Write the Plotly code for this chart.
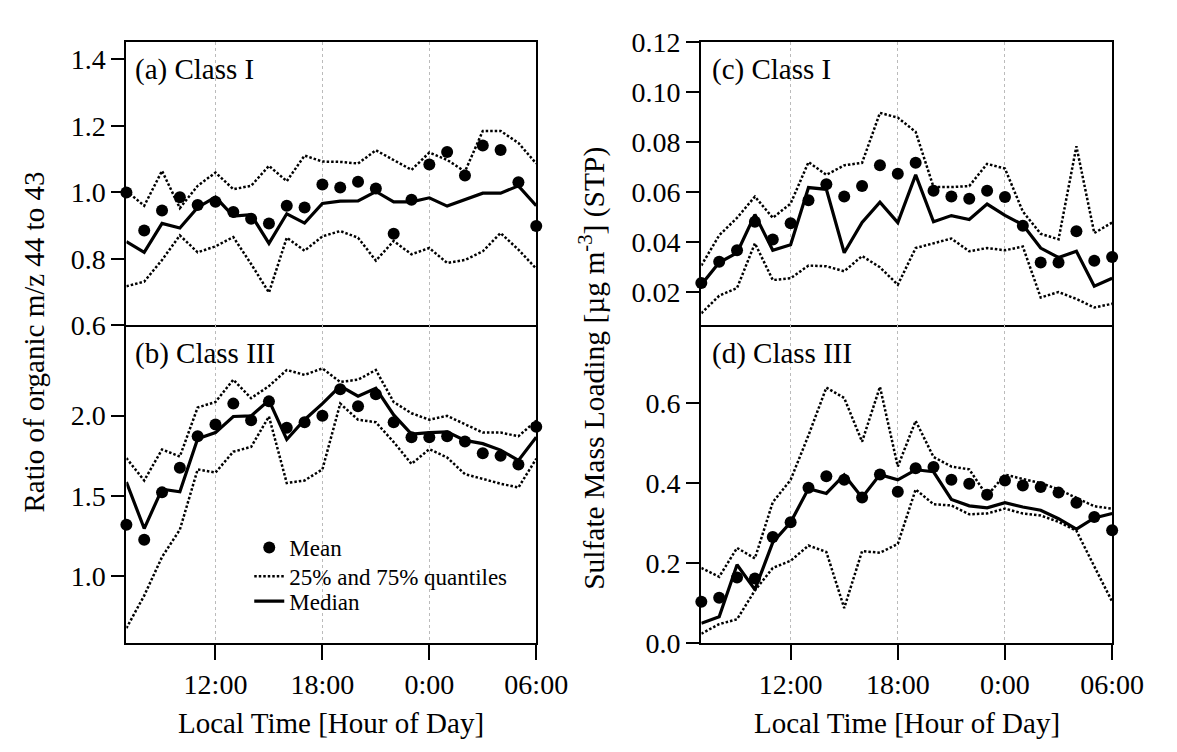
import plotly.graph_objects as go

# ---------------- data ----------------
hours = list(range(7, 31))  # 07:00 ... 06:00 next day
tick_vals = [12, 18, 24, 30]
tick_text = ["12:00", "18:00", "0:00", "06:00"]

# (a) Class I, ratio m/z 44 to 43
a_mean = [1.000, 0.886, 0.946, 0.986, 0.962, 0.972, 0.941, 0.921, 0.907, 0.960, 0.955, 1.024,
          1.015, 1.032, 1.012, 0.876, 0.978, 1.084, 1.122, 1.051, 1.141, 1.128, 1.031, 0.899]
a_median = [0.852, 0.820, 0.907, 0.893, 0.955, 0.986, 0.929, 0.933, 0.847, 0.936, 0.908, 0.967,
            0.974, 0.975, 1.003, 0.972, 0.972, 0.984, 0.959, 0.978, 0.998, 0.998, 1.020, 0.960]
a_q75 = [1.005, 0.960, 1.065, 0.953, 1.020, 1.060, 1.010, 1.020, 1.080, 1.034, 1.111, 1.093,
         1.092, 1.087, 1.127, 1.098, 1.068, 1.120, 1.098, 1.063, 1.185, 1.185, 1.149, 1.087]
a_q25 = [0.718, 0.732, 0.797, 0.871, 0.820, 0.838, 0.866, 0.785, 0.699, 0.864, 0.825, 0.868,
         0.884, 0.864, 0.795, 0.854, 0.814, 0.833, 0.788, 0.797, 0.823, 0.878, 0.828, 0.771]

# (b) Class III, ratio m/z 44 to 43
b_mean = [1.321, 1.227, 1.522, 1.675, 1.871, 1.944, 2.074, 1.970, 2.088, 1.924, 1.958, 1.998,
          2.163, 2.058, 2.133, 1.958, 1.865, 1.865, 1.871, 1.839, 1.765, 1.749, 1.695, 1.930]
b_median = [1.586, 1.297, 1.542, 1.526, 1.855, 1.894, 1.994, 1.998, 2.094, 1.851, 1.974, 2.074,
            2.183, 2.120, 2.169, 2.004, 1.884, 1.894, 1.898, 1.845, 1.825, 1.785, 1.721, 1.865]
b_q75 = [1.735, 1.596, 1.789, 1.745, 2.050, 2.084, 2.223, 2.108, 2.183, 2.283, 2.253, 2.293,
         2.209, 2.223, 2.283, 2.084, 2.014, 1.974, 1.998, 1.944, 1.894, 1.894, 1.871, 1.968]
b_q25 = [0.677, 0.880, 1.120, 1.290, 1.665, 1.645, 1.775, 1.805, 1.994, 1.580, 1.596, 1.665,
         2.074, 1.974, 1.958, 1.835, 1.699, 1.791, 1.739, 1.635, 1.606, 1.576, 1.552, 1.731]

# (c) Class I, sulfate mass loading
c_mean = [0.0236, 0.0321, 0.0367, 0.0481, 0.0410, 0.0475, 0.0567, 0.0631, 0.0582, 0.0624, 0.0707, 0.0673,
          0.0717, 0.0605, 0.0582, 0.0573, 0.0605, 0.0580, 0.0465, 0.0318, 0.0318, 0.0443, 0.0325, 0.0340]
c_median = [0.0229, 0.0318, 0.0357, 0.0510, 0.0367, 0.0389, 0.0618, 0.0611, 0.0357, 0.0478, 0.0560, 0.0478,
            0.0669, 0.0481, 0.0506, 0.0490, 0.0552, 0.0507, 0.0469, 0.0376, 0.0338, 0.0363, 0.0223, 0.0255]
c_q75 = [0.0306, 0.0427, 0.0497, 0.0582, 0.0497, 0.0554, 0.0720, 0.0669, 0.0707, 0.0717, 0.0917, 0.0898,
         0.0841, 0.0620, 0.0620, 0.0624, 0.0713, 0.0694, 0.0522, 0.0433, 0.0411, 0.0783, 0.0436, 0.0478]
c_q25 = [0.0115, 0.0185, 0.0216, 0.0395, 0.0248, 0.0255, 0.0306, 0.0303, 0.0283, 0.0344, 0.0299, 0.0229,
         0.0376, 0.0395, 0.0414, 0.0363, 0.0376, 0.0367, 0.0382, 0.0178, 0.0200, 0.0172, 0.0138, 0.0153]

# (d) Class III, sulfate mass loading
d_mean = [0.104, 0.114, 0.164, 0.162, 0.265, 0.302, 0.388, 0.417, 0.408, 0.364, 0.421, 0.378,
          0.437, 0.440, 0.408, 0.398, 0.371, 0.406, 0.394, 0.390, 0.376, 0.351, 0.315, 0.282]
d_median = [0.050, 0.066, 0.196, 0.134, 0.252, 0.302, 0.386, 0.374, 0.420, 0.364, 0.421, 0.408,
            0.433, 0.428, 0.359, 0.343, 0.338, 0.351, 0.340, 0.332, 0.311, 0.285, 0.313, 0.324]
d_q75 = [0.188, 0.166, 0.238, 0.212, 0.352, 0.408, 0.519, 0.638, 0.612, 0.503, 0.640, 0.441,
         0.555, 0.465, 0.441, 0.434, 0.368, 0.421, 0.410, 0.400, 0.384, 0.364, 0.342, 0.336]
d_q25 = [0.024, 0.048, 0.060, 0.132, 0.188, 0.206, 0.244, 0.228, 0.088, 0.230, 0.226, 0.248,
         0.384, 0.347, 0.344, 0.322, 0.324, 0.336, 0.324, 0.319, 0.303, 0.281, 0.192, 0.104]

# ---------------- figure ----------------
W, H = 1177, 752
FONT = "Liberation Serif, Times New Roman, serif"

def px(x):
    return x / W

def py(y):
    return 1 - y / H

fig = go.Figure()

panels = [
    ("x", "y", a_mean, a_median, a_q25, a_q75, False),
    ("x2", "y2", b_mean, b_median, b_q25, b_q75, True),
    ("x3", "y3", c_mean, c_median, c_q25, c_q75, False),
    ("x4", "y4", d_mean, d_median, d_q25, d_q75, False),
]

DOT = dict(color="black", width=2.5, dash="2.5px,2px")

for xa, ya, mean, med, q25, q75, leg in panels:
    fig.add_trace(go.Scatter(x=hours, y=mean, mode="markers", name="Mean",
                             marker=dict(color="black", size=12), cliponaxis=False,
                             xaxis=xa, yaxis=ya, showlegend=leg, legend="legend"))
    fig.add_trace(go.Scatter(x=hours, y=q75, mode="lines", name="25% and 75% quantiles",
                             line=DOT, xaxis=xa, yaxis=ya, showlegend=leg, legend="legend2"))
    fig.add_trace(go.Scatter(x=hours, y=q25, mode="lines", name="25% and 75% quantiles",
                             line=DOT, xaxis=xa, yaxis=ya, showlegend=False, legend="legend2"))
    fig.add_trace(go.Scatter(x=hours, y=med, mode="lines", name="Median",
                             line=dict(color="black", width=3.2),
                             xaxis=xa, yaxis=ya, showlegend=leg, legend="legend3"))

left_dom = [px(121.7), px(543)]
right_dom = [px(712.7), px(1135)]
top_dom = [py(315.5), py(20)]
bot_dom = [py(647), py(315.5)]

tickfont = dict(family=FONT, size=28, color="black")

def xaxis(dom, anchor, labels):
    d = dict(domain=dom, anchor=anchor, range=[7, 30], tickmode="array",
             tickvals=tick_vals, ticktext=tick_text, showticklabels=labels,
             showgrid=True, gridcolor="#bbbbbb", gridwidth=1, griddash="dot",
             showline=True, linecolor="black", linewidth=2.2,
             mirror=not labels, zeroline=False, tickfont=tickfont)
    if labels:
        d.update(ticks="outside", ticklen=15, tickwidth=2.2, tickcolor="black")
    else:
        d.update(ticks="")
    return d

def yaxis(dom, anchor, rng, vals, fmt):
    return dict(domain=dom, anchor=anchor, range=rng, tickmode="array", tickvals=vals,
                tickformat=fmt, showgrid=False, zeroline=False,
                showline=True, linecolor="black", linewidth=2.2, mirror=True,
                ticks="outside", ticklen=13, tickwidth=2.2, tickcolor="black",
                tickfont=tickfont)

def legend_at(yc):
    return dict(x=px(248), y=py(yc), xanchor="left", yanchor="middle",
                bgcolor="rgba(0,0,0,0)", borderwidth=0,
                font=dict(family=FONT, size=23, color="black"))

fig.update_layout(
    width=W, height=H,
    margin=dict(l=0, r=0, t=0, b=0),
    paper_bgcolor="white", plot_bgcolor="white",
    font=dict(family=FONT, color="black"),
    xaxis=xaxis(left_dom, "y", False),
    xaxis2=xaxis(left_dom, "y2", True),
    xaxis3=xaxis(right_dom, "y3", False),
    xaxis4=xaxis(right_dom, "y4", True),
    yaxis=yaxis(top_dom, "x", [0.6, 1.452], [0.6, 0.8, 1.0, 1.2, 1.4], ".1f"),
    yaxis2=yaxis(bot_dom, "x2", [0.583, 2.56], [1.0, 1.5, 2.0], ".1f"),
    yaxis3=yaxis(top_dom, "x3", [0.0066, 0.12], [0.02, 0.04, 0.06, 0.08, 0.10, 0.12], ".2f"),
    yaxis4=yaxis(bot_dom, "x4", [0.0, 0.793], [0.0, 0.2, 0.4, 0.6], ".1f"),
    legend=legend_at(547),
    legend2=legend_at(577),
    legend3=legend_at(603),
    showlegend=True,
)

ann = []
labels = [("(a) Class I", 129, 49), ("(b) Class III", 129, 345),
          ("(c) Class I", 722, 48), ("(d) Class III", 722, 345)]
for txt, x, y in labels:
    ann.append(dict(text=txt, x=px(x), y=py(y), xref="paper", yref="paper",
                    xanchor="left", yanchor="middle", showarrow=False,
                    font=dict(family=FONT, size=29, color="black")))

ann.append(dict(text="Ratio of organic m/z 44 to 43", x=px(27), y=py(333),
                xref="paper", yref="paper", textangle=-90, showarrow=False,
                xanchor="center", yanchor="middle",
                font=dict(family=FONT, size=29, color="black")))
ann.append(dict(text="Sulfate Mass Loading [µg m<sup>-3</sup>] (STP)", x=px(600), y=py(360),
                xref="paper", yref="paper", textangle=-90, showarrow=False,
                xanchor="center", yanchor="middle",
                font=dict(family=FONT, size=29.5, color="black")))
for cx in (332, 924):
    ann.append(dict(text="Local Time [Hour of Day]", x=px(cx), y=py(730),
                    xref="paper", yref="paper", showarrow=False,
                    xanchor="center", yanchor="middle",
                    font=dict(family=FONT, size=29, color="black")))

fig.update_layout(annotations=ann)

fig.write_html("out.html")
